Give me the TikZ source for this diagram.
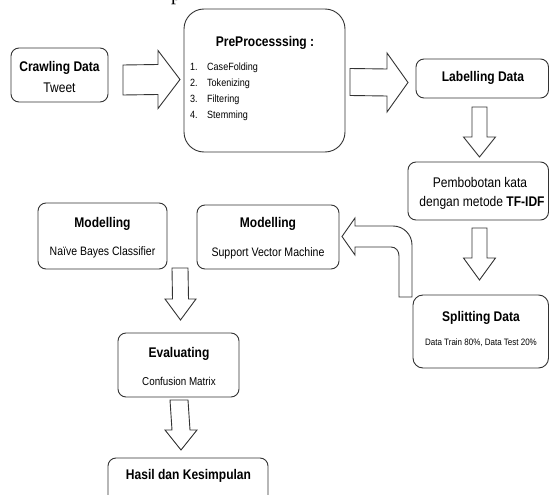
\documentclass[tikz,border=0pt]{standalone}
\usepackage{fontspec}
\setmainfont{Liberation Sans}[FakeStretch=0.86]
\newfontfamily\serifp{Liberation Serif}
\usetikzlibrary{calc}
\tikzset{
  box/.style={draw=black!80, line width=0.9pt, rounded corners=8pt, inner sep=0pt},
  barrow/.style={draw=black!80, line width=0.9pt, fill=white, line join=miter},
  ttl/.style={font=\fontsize{14}{16}\selectfont\bfseries, anchor=base, inner sep=0pt},
  sub/.style={font=\fontsize{14}{16}\selectfont, anchor=base, inner sep=0pt},
  item/.style={font=\fontsize{10.5}{12}\selectfont, anchor=base west, inner sep=0pt},
}
\newcommand\RArrow[5]{\draw[barrow] ($(#1)+(0,-#3)$) -- ($(#2)+(-#5,-#3)$) -- ($(#2)+(-#5,-#4)$) -- (#2) -- ($(#2)+(-#5,#4)$) -- ($(#2)+(-#5,#3)$) -- ($(#1)+(0,#3)$) -- cycle;}
\newcommand\DArrow[5]{\draw[barrow] ($(#1)+(-#3,0)$) -- ($(#2)+(-#3,-#5)$) -- ($(#2)+(-#4,-#5)$) -- (#2) -- ($(#2)+(#4,-#5)$) -- ($(#2)+(#3,-#5)$) -- ($(#1)+(#3,0)$) -- cycle;}
\begin{document}
\begin{tikzpicture}[x=1pt,y=-1pt]
\useasboundingbox (0,0) rectangle (550,495);
\fill[white] (0,0) rectangle (550,495);

% caption fragment at top
\node[font=\serifp\fontsize{20}{20}\selectfont, anchor=base west, inner sep=0pt] (capp) at (171,0.3) {p};

% boxes
\node[box, minimum width=97pt, minimum height=54pt] (crawl) at (59.5,75) {};
\node[box, rounded corners=20pt, minimum width=161pt, minimum height=143pt] (pre) at (264.5,80.5) {};
\node[box, minimum width=132.5pt, minimum height=39pt] (label) at (482.25,78.5) {};
\node[box, minimum width=140.5pt, minimum height=58pt] (pemb) at (478.25,191) {};
\node[box, rounded corners=10pt, minimum width=135.5pt, minimum height=73pt] (split) at (480.75,331.5) {};
\node[box, minimum width=142pt, minimum height=64pt] (svm) at (268,237) {};
\node[box, minimum width=129pt, minimum height=66pt] (nb) at (102.5,236) {};
\node[box, minimum width=121pt, minimum height=64pt] (eval) at (178.5,365) {};
\node[box, minimum width=160pt, minimum height=60pt] (hasil) at (188,488) {};

% texts
\node[ttl] (crawlT) at (59.5,72) {Crawling Data};
\node[sub] (crawlS) at (59.5,93) {Tweet};
\node[ttl] (preT) at (265,47) {PreProcesssing :};
\node[item] (n1) at (190,71) {1.};
\node[item] (i1) at (207,71) {CaseFolding};
\node[item] (n2) at (190,87) {2.};
\node[item] (i2) at (207,87) {Tokenizing};
\node[item] (n3) at (190,103) {3.};
\node[item] (i3) at (207,103) {Filtering};
\node[item] (n4) at (190,119) {4.};
\node[item] (i4) at (207,119) {Stemming};
\node[ttl] (labelT) at (483,82) {Labelling Data};
\node[sub] (pembA) at (480,187) {Pembobotan kata};
\node[sub] (pembB) at (482,207) {dengan metode \textbf{TF-IDF}};
\node[ttl] (splitT) at (481,321) {Splitting Data};
\node[sub, font=\fontsize{9.3}{11}\selectfont] (splitS) at (481,345) {Data Train 80\%, Data Test 20\%};
\node[ttl] (svmT) at (268,228) {Modelling};
\node[sub, font=\fontsize{12.3}{14}\selectfont] (svmS) at (268,256) {Support Vector Machine};
\node[ttl] (nbT) at (102.5,228) {Modelling};
\node[sub, font=\fontsize{12.2}{14}\selectfont] (nbS) at (102.5,255) {Naïve Bayes Classifier};
\node[ttl] (evalT) at (179,357) {Evaluating};
\node[sub, font=\fontsize{11.4}{13}\selectfont] (evalS) at (179,385) {Confusion Matrix};
\node[ttl] (hasilT) at (188.5,479) {Hasil dan Kesimpulan};

% block arrows
\coordinate (a1s) at (123,80);   \coordinate (a1e) at (180,79.5);
\coordinate (a2s) at (350,82);   \coordinate (a2e) at (408,82.5);
\coordinate (a3s) at (479.5,107); \coordinate (a3e) at (479.5,157);
\coordinate (a4s) at (479.5,228); \coordinate (a4e) at (479.5,280);
\coordinate (a5s) at (180,268);  \coordinate (a5e) at (180.5,320);
\coordinate (a6s) at (179,400);  \coordinate (a6e) at (181,450);
\RArrow{a1s}{a1e}{15}{29}{22}
\RArrow{a2s}{a2e}{13.5}{29.5}{21}
\DArrow{a3s}{a3e}{7.5}{16}{20}
\DArrow{a4s}{a4e}{7.5}{16}{22}
\DArrow{a5s}{a5e}{8}{15.5}{21}
\DArrow{a6s}{a6e}{9}{16}{20}

% curved block arrow from Splitting Data to SVM
\coordinate (c7tip) at (342,236.5);
\draw[barrow] (c7tip) -- (355,218) -- (355,226) -- (393,226)
  .. controls (403.5,226) and (412,234.5) .. (412,245) -- (412,297) -- (399,297) -- (399,256)
  .. controls (399,251) and (396,247) .. (391,247) -- (355,247) -- (355,255) -- cycle;
\end{tikzpicture}
\end{document}
